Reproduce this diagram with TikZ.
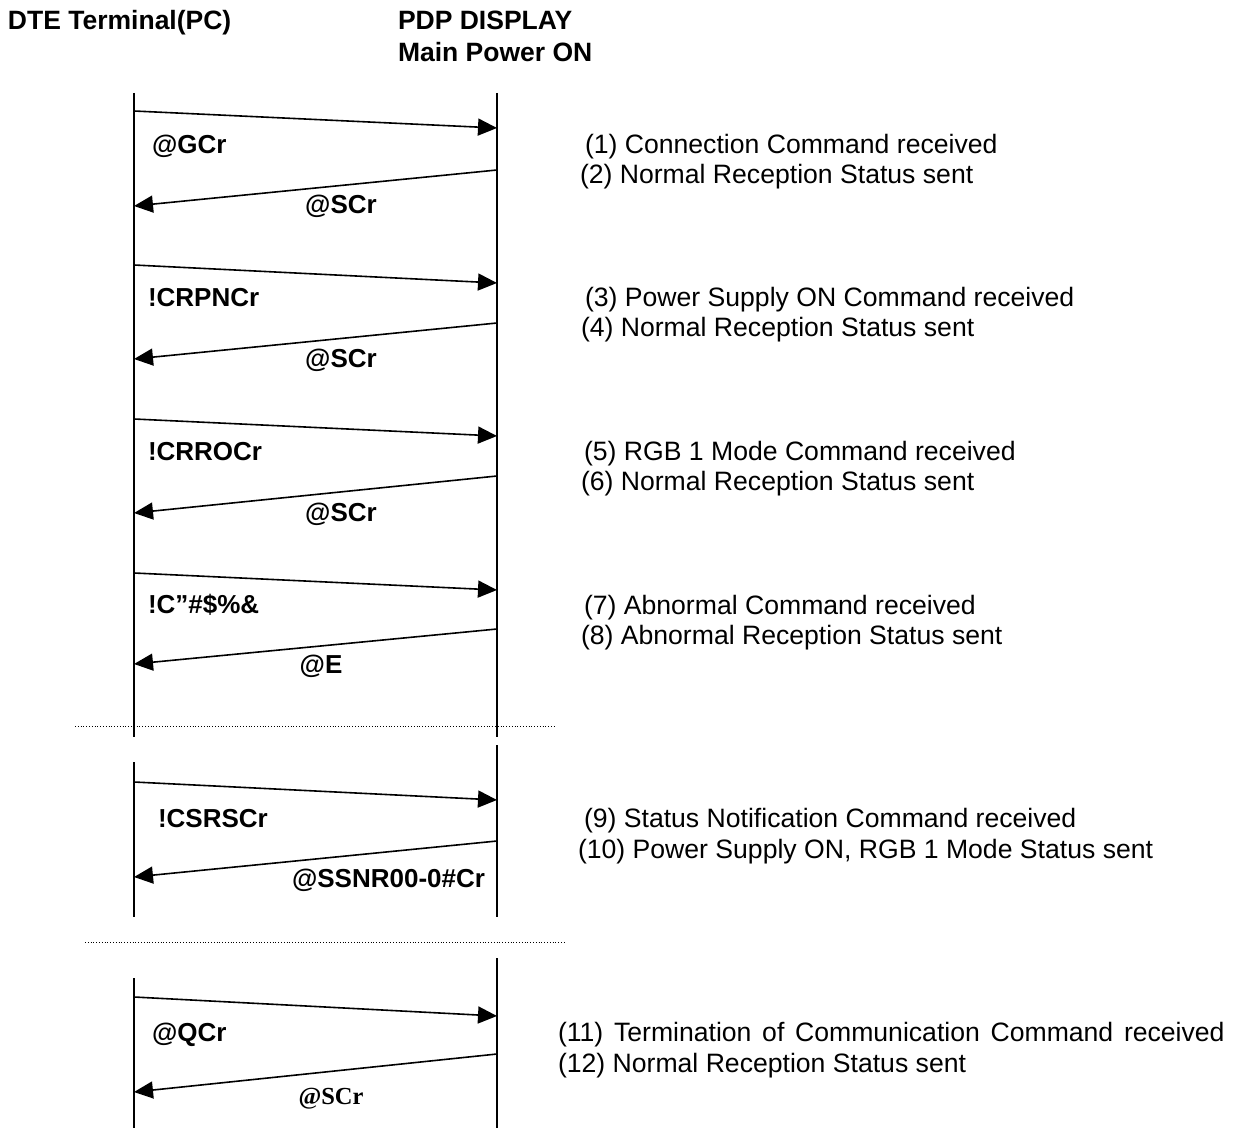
\documentclass[tikz,border=0pt]{standalone}
\usepackage{fontspec}
\setmainfont{Liberation Sans}
\newfontfamily\widefont[WordSpace=1.45]{Liberation Sans}
\newfontfamily\timesfont{Liberation Serif}
\usetikzlibrary{arrows.meta}
\begin{document}
\begin{tikzpicture}[x=1pt,y=-1pt,
  every node/.style={inner sep=0pt,outer sep=0pt},
  lifeline/.style={line width=1.6pt},
  msg/.style={line width=1.6pt,-{Triangle[length=19pt,width=17pt]}},
  sep/.style={line width=0.8pt,dotted},
  cmd/.style={anchor=base west,font=\fontsize{26}{30}\selectfont\bfseries},
  cmdc/.style={anchor=base,font=\fontsize{26}{30}\selectfont\bfseries},
  note/.style={anchor=base west,font=\fontsize{26.6}{30}\selectfont},
  hdr/.style={anchor=base west,font=\fontsize{26.5}{30}\selectfont\bfseries}]
\useasboundingbox (0,0) rectangle (1233,1131);
% headers
\node[hdr] (h1) at (8,30) {DTE Terminal(PC)};
\node[hdr] (h2) at (398,30) {PDP DISPLAY};
\node[hdr] (h3) at (398,62) {Main Power ON};
% lifelines
\coordinate (L1t) at (134,93); \coordinate (L1b) at (134,737);
\coordinate (R1t) at (497,93); \coordinate (R1b) at (497,737);
\coordinate (L2t) at (134,762); \coordinate (L2b) at (134,917);
\coordinate (R2t) at (497,745); \coordinate (R2b) at (497,917);
\coordinate (L3t) at (134,978); \coordinate (L3b) at (134,1128);
\coordinate (R3t) at (497,958); \coordinate (R3b) at (497,1128);
\draw[lifeline] (L1t) -- (L1b);
\draw[lifeline] (R1t) -- (R1b);
\draw[lifeline] (L2t) -- (L2b);
\draw[lifeline] (R2t) -- (R2b);
\draw[lifeline] (L3t) -- (L3b);
\draw[lifeline] (R3t) -- (R3b);
% separators
\coordinate (s1a) at (75,726); \coordinate (s1b) at (555,726);
\coordinate (s2a) at (85,942); \coordinate (s2b) at (565,942);
\draw[sep] (s1a) -- (s1b);
\draw[sep] (s2a) -- (s2b);
% arrow endpoints
\coordinate (a1s) at (134,111);  \coordinate (a1e) at (497,128);
\coordinate (a2s) at (497,170);  \coordinate (a2e) at (134,206);
\coordinate (a3s) at (134,265);  \coordinate (a3e) at (497,283);
\coordinate (a4s) at (497,323);  \coordinate (a4e) at (134,359);
\coordinate (a5s) at (134,419);  \coordinate (a5e) at (497,436);
\coordinate (a6s) at (497,476);  \coordinate (a6e) at (134,513);
\coordinate (a7s) at (134,573);  \coordinate (a7e) at (497,590);
\coordinate (a8s) at (497,629);  \coordinate (a8e) at (134,664);
\coordinate (a9s) at (134,782);  \coordinate (a9e) at (497,800);
\coordinate (a10s) at (497,841); \coordinate (a10e) at (134,877);
\coordinate (a11s) at (134,997); \coordinate (a11e) at (497,1016);
\coordinate (a12s) at (497,1054);\coordinate (a12e) at (134,1092);
\foreach \i in {1,...,12} {\draw[msg] (a\i s) -- (a\i e);}
% command labels
\node[cmd] (c1) at (152,154) {@GCr};
\node[cmdc] (c2) at (341,214) {@SCr};
\node[cmd] (c3) at (148,306) {!CRPNCr};
\node[cmdc] (c4) at (341,367) {@SCr};
\node[cmd] (c5) at (148,460) {!CRROCr};
\node[cmdc] (c6) at (341,521) {@SCr};
\node[cmd] (c7) at (148,613) {!C”\#\$\%\&};
\node[cmdc] (c8) at (321,673) {@E};
\node[cmd] (c9) at (158,827) {!CSRSCr};
\node[cmd,anchor=base east] (c10) at (485,887) {@SSNR00-0\#Cr};
\node[cmd] (c11) at (152,1041) {@QCr};
\node[anchor=base,font=\fontsize{24.5}{28}\timesfont\bfseries] (c12) at (331,1104) {@SCr};
% notes
\node[note] (n1) at (585,154) {(1) Connection Command received};
\node[note] (n2) at (580,184) {(2) Normal Reception Status sent};
\node[note] (n3) at (585,306) {(3) Power Supply ON Command received};
\node[note] (n4) at (581,337) {(4) Normal Reception Status sent};
\node[note] (n5) at (584,460) {(5) RGB 1 Mode Command received};
\node[note] (n6) at (581,490) {(6) Normal Reception Status sent};
\node[note] (n7) at (584,614) {(7) Abnormal Command received};
\node[note] (n8) at (581,644) {(8) Abnormal Reception Status sent};
\node[note] (n9) at (584,827) {(9) Status Notification Command received};
\node[note] (n10) at (578,858) {(10) Power Supply ON, RGB 1 Mode Status sent};
\node[note,font=\fontsize{26.6}{30}\widefont] (n11) at (558,1041) {(11) Termination of Communication Command received};
\node[note] (n12) at (558,1072) {(12) Normal Reception Status sent};
\end{tikzpicture}
\end{document}
